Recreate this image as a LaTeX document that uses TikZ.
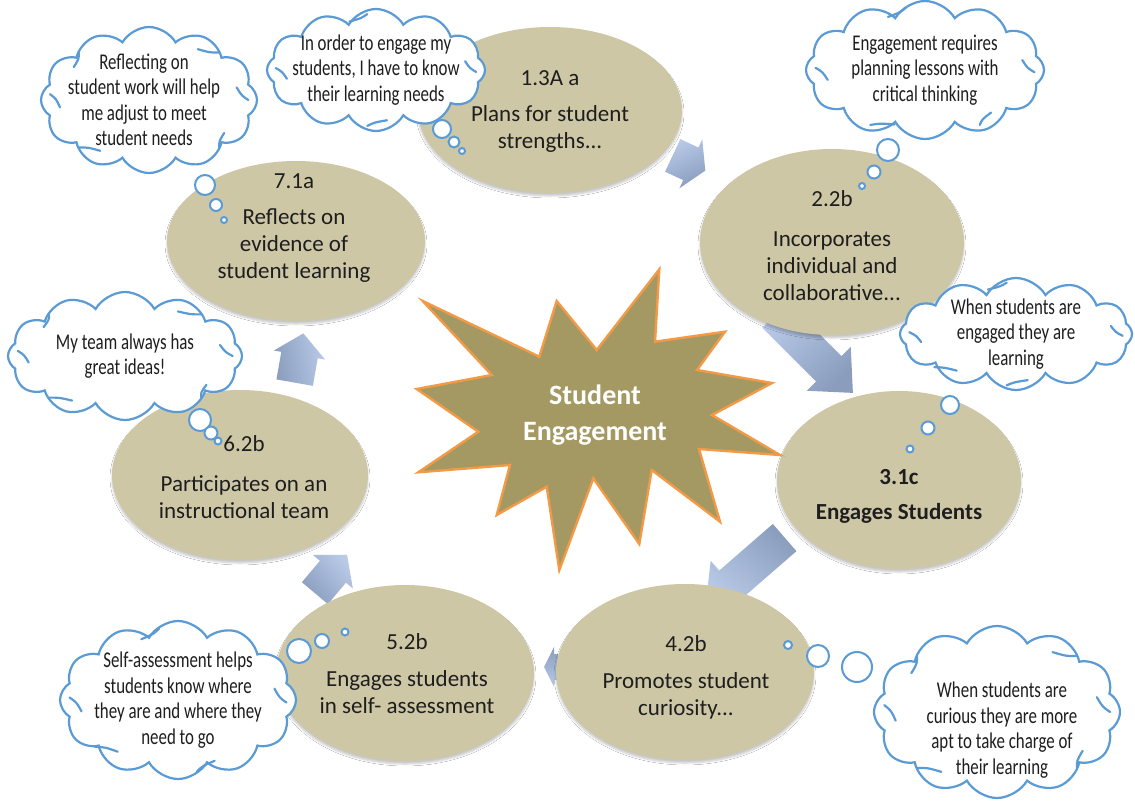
\documentclass[tikz,border=0pt]{standalone}
\usepackage{fontspec}
\setmainfont{Carlito}
\newfontfamily\thinkfont[FakeStretch=0.75]{Carlito}
\usetikzlibrary{shapes.geometric,shapes.symbols,shadows,shadows.blur}

\definecolor{goalfill}{HTML}{CDC7A6}
\definecolor{starfill}{HTML}{A49963}
\definecolor{starline}{HTML}{F29A46}
\definecolor{cloudline}{HTML}{5B9BD5}
\definecolor{arrowtop}{HTML}{B9CAE8}
\definecolor{arrowbot}{HTML}{8A9DBD}
\definecolor{ink}{HTML}{1E1E1E}

\tikzset{
  goal/.style={ellipse, fill=goalfill, inner sep=0pt,
    blur shadow={shadow xshift=0pt, shadow yshift=-3pt, shadow opacity=22, shadow blur steps=6}},
  goaltext/.style={align=center, inner sep=0pt, text=ink,
    font=\fontsize{23}{27}\selectfont},
  thought/.style={cloud, cloud puffs=12, cloud puff arc=120, cloud ignores aspect,
    draw=cloudline, line width=2.2pt, fill=white, inner sep=0pt},
  curl/.style={draw=cloudline, line width=2.2pt, line cap=round},
  thoughttext/.style={align=center, inner sep=0pt, text=ink,
    font=\thinkfont\fontsize{22.5}{25.5}\selectfont},
  bubble/.style={circle, draw=cloudline, line width=2pt, fill=white, inner sep=0pt},
  hubtext/.style={align=center, inner sep=0pt, text=white,
    font=\bfseries\fontsize{28}{36}\selectfont},
}

% block arrow: centre (#1,#2), direction #3 (deg), length #4, shaft #5, head width #6, head length #7
\newcommand{\flowarrow}[7]{%
  \begin{scope}[shift={(#1,#2)}, rotate=#3]
    \shade[top color=arrowtop, bottom color=arrowbot, shading angle={-#3}]
      ({-#4/2},{-#5/2}) -- ({#4/2-#7},{-#5/2}) -- ({#4/2-#7},{-#6/2}) -- ({#4/2},0)
      -- ({#4/2-#7},{#6/2}) -- ({#4/2-#7},{#5/2}) -- ({-#4/2},{#5/2}) -- cycle;
  \end{scope}}

% short inner curls along the rim of a thought cloud:
% centre (#1,#2), half width #3, half height #4, rim angles #5
\newcommand{\cloudcurls}[5]{%
  \begin{scope}[shift={(#1,#2)}, x=#3pt, y=#4pt]
    \foreach \t in {#5}
      \draw[curl] ({0.92*cos(\t)},{0.92*sin(\t)})
        .. controls ({0.86*cos(\t+4)},{0.86*sin(\t+4)}) .. ({0.83*cos(\t+12)},{0.83*sin(\t+12)});
  \end{scope}}

\begin{document}
\begin{tikzpicture}[x=1pt,y=1pt]
\useasboundingbox (0,0) rectangle (1135,-804);
\fill[white] (0,0) rectangle (1135,-804);

% cycle arrows
\flowarrow{689}{-163}{-25}{36}{36}{54}{16}
\flowarrow{814}{-354}{-45}{110}{36}{62}{34}
\flowarrow{745}{-572}{-139}{105}{36}{62}{34}
\flowarrow{551}{-667}{180}{14}{26}{40}{10}
\flowarrow{331}{-574}{50}{50}{34}{52}{22}
\flowarrow{299}{-358}{80}{50}{37}{52}{22}

% standards
\node[goal, minimum width=264pt, minimum height=166pt] (g13) at (550,-110) {};
\node[goaltext] (l13) at (550,-112) {1.3A a\\[9pt]Plans for student\\strengths...};
\node[goal, minimum width=264pt, minimum height=186pt] (g22) at (832,-242) {};
\node[goaltext] (l22) at (832,-246) {2.2b\\[13pt]Incorporates\\individual and\\collaborative...};
\node[goal, minimum width=244pt, minimum height=178pt] (g31) at (899,-480) {};
\node[goaltext, font=\bfseries\fontsize{23}{27}\selectfont] (l31) at (899,-496) {3.1c\\[8pt]Engages Students};
\node[goal, minimum width=258pt, minimum height=176pt] (g42) at (685,-672) {};
\node[goaltext] (l42) at (686,-677) {4.2b\\[10pt]Promotes student\\curiosity...};
\node[goal, minimum width=258pt, minimum height=176pt] (g52) at (405,-673) {};
\node[goaltext] (l52) at (407,-674) {5.2b\\[10pt]Engages students\\in self- assessment};
\node[goal, minimum width=256pt, minimum height=170pt] (g62) at (240,-475) {};
\node[goaltext] (l62) at (244,-477) {6.2b\\[13pt]Participates on an\\instructional team};
\node[goal, minimum width=258pt, minimum height=160pt] (g71) at (296,-241) {};
\node[goaltext] (l71) at (294,-228) {7.1a\\[9pt]Reflects on\\evidence of\\student learning};

% central burst
\draw[fill=starfill, draw=starline, line width=2.4pt, line join=miter]
  (422.7,-301) -- (539.3,-356.7) -- (556.7,-301) -- (596.7,-350) -- (659.3,-269.3)
  -- (655,-341.7) -- (725,-331.7) -- (697,-370) -- (772,-383) -- (712,-415)
  -- (780,-455) -- (699,-449) -- (720,-521.7) -- (651.7,-470) -- (639.3,-544)
  -- (593.3,-478.3) -- (559.3,-570) -- (546.7,-486.7) -- (496.7,-515) -- (510,-465)
  -- (418.3,-472.3) -- (478.3,-431.7) -- (416.7,-389) -- (491.7,-375) -- cycle;
\node[hubtext] (hub) at (595,-415) {Student\\Engagement};

% thought clouds
\node[thought, minimum width=216pt, minimum height=146pt] (ca) at (149,-100) {};
\cloudcurls{149}{-100}{108}{73}{175,135,45,0,-45,-135}
\node[thoughttext] (ta) at (144,-100) {Reflecting on\\student work will help\\me adjust to meet\\student needs};
\node[bubble, minimum size=20pt] (ca1) at (205,-185) {};
\node[bubble, minimum size=12pt] (ca2) at (216,-205) {};
\node[bubble, minimum size=6pt] (ca3) at (224,-220) {};

\node[thought, minimum width=218pt, minimum height=122pt] (cb) at (376,-70) {};
\cloudcurls{376}{-70}{109}{61}{178,95,-2,-95}
\node[thoughttext] (tb) at (cb) {In order to engage my\\students, I have to know\\their learning needs};
\node[bubble, minimum size=18pt] (cb1) at (442,-129) {};
\node[bubble, minimum size=11pt] (cb2) at (454,-142) {};
\node[bubble, minimum size=6pt] (cb3) at (462,-151) {};

\node[thought, minimum width=238pt, minimum height=138pt] (ce) at (925,-70) {};
\cloudcurls{925}{-70}{119}{69}{178,100,-2,-60,-120}
\node[thoughttext] (te) at (ce) {Engagement requires\\planning lessons with\\critical thinking};
\node[bubble, minimum size=22pt] (ce1) at (888,-150) {};
\node[bubble, minimum size=13pt] (ce2) at (874,-172) {};
\node[bubble, minimum size=6pt] (ce3) at (862,-186) {};

\node[thought, minimum width=232pt, minimum height=112pt] (cf) at (1016,-334) {};
\cloudcurls{1016}{-334}{116}{56}{178,95,-2,-95,-140}
\node[thoughttext] (tf) at (cf) {When students are\\engaged they are\\learning};
\node[bubble, minimum size=18pt] (cf1) at (950,-405) {};
\node[bubble, minimum size=13pt] (cf2) at (928,-428) {};
\node[bubble, minimum size=7pt] (cf3) at (910,-449) {};

\node[thought, minimum width=234pt, minimum height=128pt] (cc) at (125,-356) {};
\cloudcurls{125}{-356}{117}{64}{175,135,45,0,-45,-135}
\node[thoughttext] (tc) at (cc) {My team always has\\great ideas!};
\node[bubble, minimum size=22pt] (cc1) at (200,-420) {};
\node[bubble, minimum size=13pt] (cc2) at (211,-433) {};
\node[bubble, minimum size=7pt] (cc3) at (218,-441) {};

\node[thought, minimum width=236pt, minimum height=158pt] (cd) at (178,-700) {};
\cloudcurls{178}{-700}{118}{79}{178,100,-2,-80,-140}
\node[thoughttext] (td) at (cd) {Self-assessment helps\\students know where\\they are and where they\\need to go};
\node[bubble, minimum size=24pt] (cd1) at (299,-651) {};
\node[bubble, minimum size=14pt] (cd2) at (322,-641) {};
\node[bubble, minimum size=7pt] (cd3) at (345,-632) {};

\node[thought, minimum width=246pt, minimum height=172pt] (cg) at (997,-712) {};
\cloudcurls{997}{-712}{123}{86}{175,135,45,0,-45,-135}
\node[thoughttext] (tg) at (1002,-730) {When students are\\curious they are more\\apt to take charge of\\their learning};
\node[bubble, minimum size=8pt] (cg1) at (788,-645) {};
\node[bubble, minimum size=22pt] (cg2) at (818,-656) {};
\node[bubble, minimum size=30pt] (cg3) at (857,-667) {};
\end{tikzpicture}
\end{document}
